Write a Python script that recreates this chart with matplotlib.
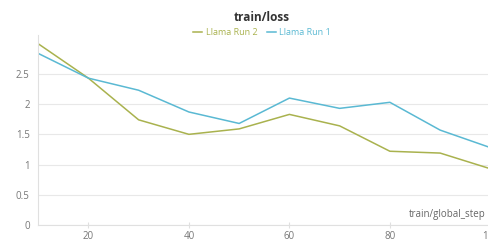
import matplotlib.pyplot as plt

# data
steps = [10, 20, 30, 40, 50, 60, 70, 80, 90, 100]
run2 = [3.00, 2.43, 1.74, 1.50, 1.59, 1.83, 1.64, 1.22, 1.19, 0.93]
run1 = [2.84, 2.43, 2.23, 1.87, 1.68, 2.10, 1.93, 2.03, 1.57, 1.28]
yticks = [0, 0.5, 1, 1.5, 2, 2.5]
ytick_labels = ['0', '0.5', '1', '1.5', '2', '2.5']
xticks = [20, 40, 60, 80, 100]

plt.rcParams['font.family'] = ['Open Sans', 'DejaVu Sans']

fig = plt.figure(figsize=(4.89, 2.44), dpi=100)
ax = fig.add_axes([0.078, 0.078, 0.93, 0.78])

c2 = '#a9b24e'
c1 = '#5ab9d3'
ax.plot(steps, run2, color=c2, lw=1.1, label='Llama Run 2')
ax.plot(steps, run1, color=c1, lw=1.1, label='Llama Run 1')

ax.set_xlim(10, 100.5)
ax.set_ylim(0, 3.15)
ax.set_yticks(yticks)
ax.set_yticklabels(ytick_labels)
ax.set_xticks(xticks)
ax.grid(axis='y', color='#e8e8e8', lw=0.8)
ax.set_axisbelow(True)
for s in ['top', 'right']:
    ax.spines[s].set_visible(False)
for s in ['left', 'bottom']:
    ax.spines[s].set_color('#e0e0e0')
ax.tick_params(axis='y', length=0, labelsize=7, colors='#777777', pad=6)
ax.tick_params(axis='x', length=5, direction='inout', color='#e0e0e0',
               labelsize=7, labelcolor='#777777', pad=2)

# axis name sits inside the plot, bottom right
fig.text(0.993, 0.1, 'train/global_step', ha='right', va='bottom',
         fontsize=7, color='#666666')

fig.text(0.536, 0.93, 'train/loss', ha='center', va='center',
         fontsize=8.5, fontweight='bold', color='#333333')
fig.legend(loc='center', bbox_to_anchor=(0.536, 0.868), ncol=2, frameon=False,
           fontsize=6.5, handlelength=1.0, handletextpad=0.4, columnspacing=1.0,
           labelcolor='linecolor')

fig.savefig('out.png', dpi=100)
